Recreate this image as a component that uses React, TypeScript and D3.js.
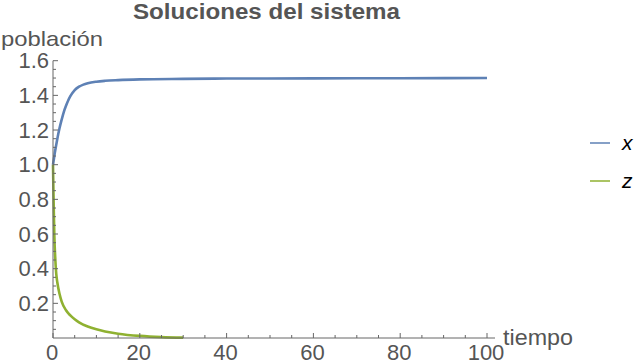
import React from "react";
import * as d3 from "d3";

const title = "Soluciones del sistema";
const xLabel = "tiempo";
const yLabel = "población";
const seriesNames = ["x", "z"];
const seriesColors = ["#5E81B5", "#8FB131"];

const tX = [0, 0.25, 0.5, 0.75, 1, 1.5, 2, 2.5, 3, 3.5, 4, 5, 6, 7, 8, 10, 12, 15, 20, 30, 40, 60, 80, 100];
const valX = [1.0, 1.04, 1.08, 1.115, 1.15, 1.21, 1.26, 1.305, 1.34, 1.37, 1.395, 1.43, 1.45, 1.462, 1.47, 1.479, 1.484, 1.488, 1.492, 1.495, 1.497, 1.498, 1.499, 1.5];

const tZ = [0, 0.1, 0.2, 0.3, 0.5, 0.75, 1, 1.5, 2, 3, 4, 5, 6, 8, 10, 12, 15, 20, 25, 30];
const valZ = [1.0, 0.85, 0.72, 0.6, 0.47, 0.37, 0.32, 0.255, 0.21, 0.16, 0.13, 0.108, 0.09, 0.066, 0.05, 0.038, 0.025, 0.012, 0.005, 0.002];

const xTicks = [0, 20, 40, 60, 80, 100];
const yTicks = [0.2, 0.4, 0.6, 0.8, 1.0, 1.2, 1.4, 1.6];

export default function App() {
  const W = 640, H = 364;
  const x0 = 53, x1 = 487;
  const y0 = 338, yTop = 60.7;
  const xs = d3.scaleLinear().domain([0, 100]).range([x0, x1]);
  const ys = d3.scaleLinear().domain([0, 1.6]).range([y0, yTop]);
  const line = d3.line<[number, number]>().x(d => xs(d[0])).y(d => ys(d[1])).curve(d3.curveMonotoneX);
  const series = [
    tX.map((t, i) => [t, valX[i]] as [number, number]),
    tZ.map((t, i) => [t, valZ[i]] as [number, number]),
  ];
  const xMinor = d3.range(0, 101, 5).filter(v => v % 20 !== 0);
  const yMinor = d3.range(0.05, 1.6, 0.05).filter(v => Math.abs(v / 0.2 - Math.round(v / 0.2)) > 0.01);
  const axisColor = "#666";
  const textColor = "#555";
  const font = "'Liberation Sans', Arial, sans-serif";
  return (
    <svg width={W} height={H} style={{ position: "absolute", left: 0, top: 0, background: "#fff" }} fontFamily={font}>
      <text x={133} y={19} fontSize={22} fontWeight="bold" fill={textColor} textLength={267} lengthAdjust="spacingAndGlyphs">{title}</text>
      <text x={1} y={46} fontSize={21} fill={textColor} textLength={102} lengthAdjust="spacingAndGlyphs">{yLabel}</text>
      <text x={503} y={345} fontSize={22} fill={textColor} textLength={70} lengthAdjust="spacingAndGlyphs">{xLabel}</text>
      {series.map((s, i) => (
        <path key={i} d={line(s) || ""} fill="none" stroke={seriesColors[i]} strokeWidth={2.6} />
      ))}
      <line x1={x0} x2={495} y1={y0} y2={y0} stroke={axisColor} strokeWidth={1} />
      <line x1={x0} x2={x0} y1={y0} y2={yTop} stroke={axisColor} strokeWidth={1} />
      {xTicks.map(v => (
        <g key={"xt" + v}>
          <line x1={xs(v)} x2={xs(v)} y1={y0} y2={y0 - 5} stroke={axisColor} />
          <text x={xs(v) - 1} y={360} textAnchor="middle" fontSize={22} fill={textColor}>{v}</text>
        </g>
      ))}
      {xMinor.map(v => (
        <line key={"xm" + v} x1={xs(v)} x2={xs(v)} y1={y0} y2={y0 - 3} stroke={axisColor} />
      ))}
      {yTicks.map(v => (
        <g key={"yt" + v}>
          <line x1={x0} x2={x0 + 5} y1={ys(v)} y2={ys(v)} stroke={axisColor} />
          <text x={49} y={ys(v) + 7.5} textAnchor="end" fontSize={22} fill={textColor}>{v.toFixed(1)}</text>
        </g>
      ))}
      {yMinor.map(v => (
        <line key={"ym" + v} x1={x0} x2={x0 + 3} y1={ys(v)} y2={ys(v)} stroke={axisColor} />
      ))}
      {seriesNames.map((n, i) => (
        <g key={n} transform={`translate(590, ${143 + i * 38})`}>
          <line x1={0} x2={20} y1={0} y2={0} stroke={seriesColors[i]} strokeWidth={1.5} />
          <text x={32} y={0} dy="0.35em" fontSize={21} fontStyle="italic" fill="#000">{n}</text>
        </g>
      ))}
    </svg>
  );
}
